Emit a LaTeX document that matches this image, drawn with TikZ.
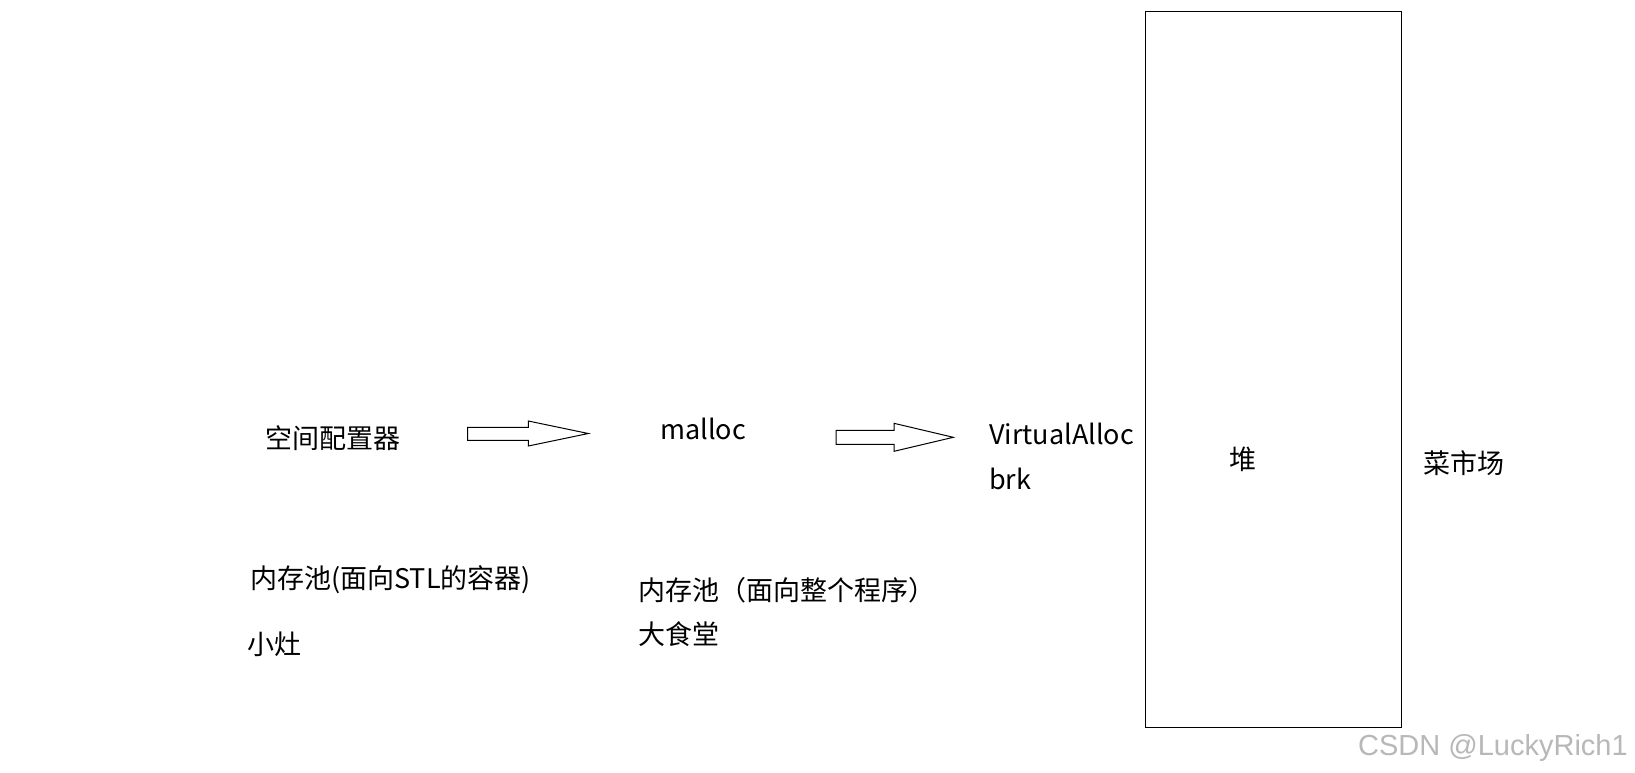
\documentclass[tikz,border=0pt]{standalone}
\usepackage{fontspec}
\setmainfont{Noto Sans CJK SC}
\newfontfamily\wmfont{Liberation Sans}
\begin{document}
\begin{tikzpicture}[x=1pt,y=-1pt,
  lbl/.style={inner sep=0pt, anchor=west, font=\fontsize{27}{32}\selectfont},
  hollow/.style={draw=black, fill=white, line width=1pt, line join=miter},
  box/.style={draw=black, line width=1pt, inner sep=0pt}]
\useasboundingbox (0,0) rectangle (1635,772);
\fill[white] (0,0) rectangle (1635,772);

% texts
\node[lbl] (kj) at (265,438) {空间配置器};
\node[lbl] (ml) at (660,429) {malloc};
\node[lbl] (va) at (989,433.5) {VirtualAlloc};
\node[lbl] (brk) at (989,479) {brk};
\node[lbl, anchor=center] (dui) at (1243,459) {堆};
\node[lbl] (csc) at (1423,463) {菜市场};
\node[lbl] (pool1) at (250,580) {内存池(面向STL的容器)};
\node[lbl] (xz) at (247,644) {小灶};
\node[lbl] (pool2) at (638,590) {内存池（面向整个程序）};
\node[lbl] (dst) at (638,634) {大食堂};

% heap rectangle
\node[box, anchor=north west, minimum width=256.3pt, minimum height=716.5pt] (heap) at (1144.7,10.5) {};

% hollow arrows
\draw[hollow] (467.7,427.3) -- (528.3,427.3) -- (528.3,421) -- (588.3,433.5)
  -- (528.3,446) -- (528.3,440.3) -- (467.7,440.3) -- cycle;
\draw[hollow] (836,430.3) -- (894,430.3) -- (894,423.3) -- (953.3,437.3)
  -- (894,451.3) -- (894,444.3) -- (836,444.3) -- cycle;

% watermark
\node[inner sep=0pt, anchor=base west, text=black!28, font=\wmfont\fontsize{29}{34}\selectfont] (wm) at (1358,755) {CSDN @LuckyRich1};
\end{tikzpicture}
\end{document}
